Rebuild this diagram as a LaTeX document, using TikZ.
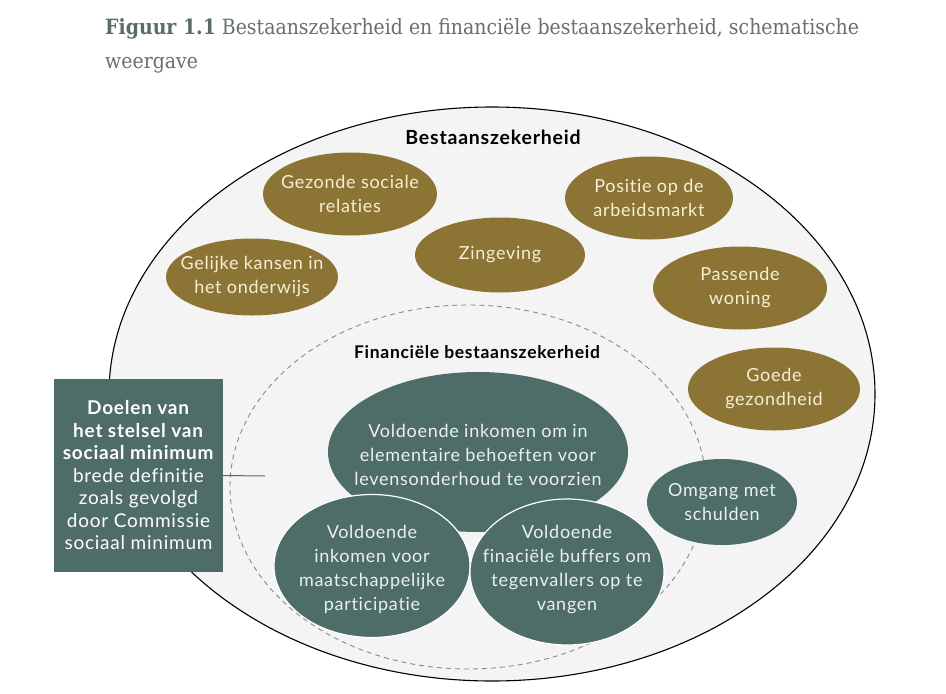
\documentclass[tikz,border=0pt]{standalone}
\usepackage{fontspec}
\setmainfont{Lato}[LetterSpace=4, Ligatures=NoCommon]
\newfontfamily\titlefont[FakeStretch=0.9]{DejaVu Serif}
\usetikzlibrary{shapes.geometric}
\definecolor{goldfill}{HTML}{8C7534}
\definecolor{goldtext}{HTML}{F6EED6}
\definecolor{tealfill}{HTML}{4E6C68}
\definecolor{tealtext}{HTML}{EAF1EF}
\definecolor{bggray}{HTML}{F4F4F4}
\definecolor{dashgray}{HTML}{8A8A8A}
\definecolor{titlegray}{HTML}{66716F}
\definecolor{titlebold}{HTML}{5A6B68}
\tikzset{
  ell/.style={ellipse, inner sep=0pt},
  goldell/.style={ell, fill=goldfill},
  tealell/.style={ell, fill=tealfill},
  etext/.style={inner sep=0pt, align=center, font=\fontsize{18}{24}\selectfont},
  goldtxt/.style={etext, text=goldtext},
  tealtxt/.style={etext, text=tealtext},
  lbl/.style={font=\bfseries\fontsize{17.5}{18}\selectfont, text=black}
}
\begin{document}
\begin{tikzpicture}[x=1pt,y=-1pt]
\useasboundingbox (0,0) rectangle (946,694);
\fill[white] (0,0) rectangle (946,694);
% title
\node[anchor=base west, inner sep=0, font=\titlefont\fontsize{21}{34}\selectfont, text=titlegray] (title1) at (105,34)
  {\textcolor{titlebold}{\textbf{Figuur 1.1}}\hspace{6pt}Bestaanszekerheid en financiële bestaanszekerheid, schematische};
\node[anchor=base west, inner sep=0, font=\titlefont\fontsize{21}{34}\selectfont, text=titlegray] (title2) at (105,68) {weergave};
% outer and inner regions
\node[ellipse, draw=black, line width=1.1pt, fill=bggray, minimum width=766pt, minimum height=574pt] (outer) at (492,394) {};
\node[ellipse, draw=dashgray, dashed, line width=0.9pt, dash pattern=on 5pt off 4pt, minimum width=476pt, minimum height=364pt] (inner) at (468,487) {};
\node[lbl, font=\bfseries\fontsize{19.5}{19.5}\selectfont] (lblB) at (493,137) {Bestaanszekerheid};
\node[lbl] (lblF) at (477,352) {Financiële bestaanszekerheid};
% gold ellipses
\node[goldell, minimum width=174pt, minimum height=83pt] (gsr) at (350,194) {};
\node[goldtxt] (gsrT) at (gsr) {Gezonde sociale\\relaties};
\node[goldell, minimum width=172pt, minimum height=77pt] (gko) at (252,277) {};
\node[goldtxt] (gkoT) at (gko) {Gelijke kansen in\\het onderwijs};
\node[goldell, minimum width=170pt, minimum height=75pt] (zin) at (500,255) {};
\node[goldtxt] (zinT) at (zin) {Zingeving};
\node[goldell, minimum width=168pt, minimum height=83pt] (pos) at (649,198) {};
\node[goldtxt] (posT) at (pos) {Positie op de\\arbeidsmarkt};
\node[goldell, minimum width=174pt, minimum height=83pt] (pw) at (740,288) {};
\node[goldtxt] (pwT) at (pw) {Passende\\woning};
\node[goldell, minimum width=172pt, minimum height=83pt] (gg) at (774,389) {};
\node[goldtxt] (ggT) at (gg) {Goede\\gezondheid};
% teal ellipses
\node[tealell, minimum width=150pt, minimum height=86pt] (oms) at (722,502) {};
\node[tealtxt] (omsT) at (oms) {Omgang met\\schulden};
\node[tealell, minimum width=300pt, minimum height=160pt] (vie) at (478,452) {};
\node[tealtxt] (vieT) at (478,455) {Voldoende inkomen om in\\elementaire behoeften voor\\levensonderhoud te voorzien};
\node[tealell, draw=white, line width=1.2pt, minimum width=196pt, minimum height=143pt] (vmp) at (372,566) {};
\node[tealtxt] (vmpT) at (372,569) {Voldoende\\inkomen voor\\maatschappelijke\\participatie};
\node[tealell, draw=white, line width=1.2pt, minimum width=194pt, minimum height=146pt] (vfb) at (567,572) {};
\node[tealtxt] (vfbT) at (567,570) {Voldoende\\finaciële buffers om\\tegenvallers op te\\vangen};
% box
\node[rectangle, fill=tealfill, text=white, inner sep=0pt, minimum width=169pt, minimum height=193pt, align=center, font=\fontsize{19}{22.5}\selectfont] (box) at (138.5,475.5)
  {\textbf{Doelen van}\\\textbf{het stelsel van}\\\textbf{sociaal minimum}\\brede definitie\\zoals gevolgd\\door Commissie\\sociaal minimum};
\coordinate (cend) at (265,476);
\draw[tealfill, line width=1pt] (box.east) -- (cend);
\end{tikzpicture}
\end{document}
